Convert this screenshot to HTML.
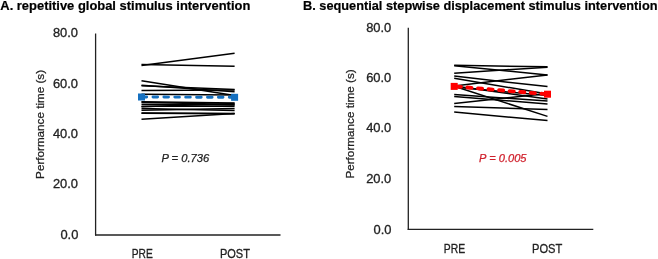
<!DOCTYPE html>
<html><head><meta charset="utf-8"><style>
html,body{margin:0;padding:0;background:#fff;width:658px;height:259px;overflow:hidden}
svg{display:block;will-change:transform}
</style></head><body>
<svg width="658" height="259" viewBox="0 0 658 259">
<style>
text{font-family:"Liberation Sans",sans-serif;}
.t{font-weight:bold;font-size:12.8px;fill:#000;stroke:#000;stroke-width:0.2px}
.k{font-size:12.9px;fill:#222;stroke:#222;stroke-width:0.3px}
.c{font-size:13px;fill:#222;stroke:#222;stroke-width:0.3px}
.y{font-size:11.8px;fill:#222;stroke:#222;stroke-width:0.25px}
.p{font-size:11px;font-style:italic;stroke-width:0.25px}
</style>
<rect width="658" height="259" fill="#fff"/>
<text class="t" x="0.3" y="10.3" textLength="250" lengthAdjust="spacingAndGlyphs">A. repetitive global stimulus intervention</text>
<text class="t" x="303" y="10.2" textLength="354.5" lengthAdjust="spacingAndGlyphs">B. sequential stepwise displacement stimulus intervention</text>

<!-- left chart -->
<g stroke="#222" stroke-width="1.3" fill="none">
<line x1="95.6" y1="33.5" x2="95.6" y2="235.6"/>
<line x1="95" y1="235" x2="280.5" y2="235"/>
</g>
<g class="k" text-anchor="end">
<text x="78" y="37.3">80.0</text>
<text x="78" y="87.5">60.0</text>
<text x="78" y="137.8">40.0</text>
<text x="78" y="188.2">20.0</text>
<text x="78.3" y="239.3">0.0</text>
</g>
<text class="y" transform="translate(43.6,178.9) rotate(-90)" textLength="109" lengthAdjust="spacingAndGlyphs">Performance time (s)</text>
<text class="c" x="131.8" y="258.2" textLength="21" lengthAdjust="spacingAndGlyphs">PRE</text>
<text class="c" x="219.9" y="258.2" textLength="30" lengthAdjust="spacingAndGlyphs">POST</text>
<g stroke="#000" stroke-width="1.5">
<line x1="141.5" y1="64.4" x2="234.6" y2="66.2"/>
<line x1="141.5" y1="65.6" x2="234.6" y2="53.2"/>
<line x1="141.5" y1="80.7" x2="234.6" y2="95.5"/>
<line x1="141.5" y1="85.3" x2="234.6" y2="91.7"/>
<line x1="141.5" y1="85.8" x2="234.6" y2="89.6"/>
<line x1="141.5" y1="90.4" x2="234.6" y2="89.9"/>
<line x1="141.5" y1="101.8" x2="234.6" y2="103.1"/>
<line x1="141.5" y1="102.3" x2="234.6" y2="104.6"/>
<line x1="141.5" y1="106.3" x2="234.6" y2="106.2"/>
<line x1="141.5" y1="106.8" x2="234.6" y2="103.5"/>
<line x1="141.5" y1="110.3" x2="234.6" y2="108.6"/>
<line x1="141.5" y1="113.0" x2="234.6" y2="113.4"/>
<line x1="141.5" y1="113.3" x2="234.6" y2="113.8"/>
<line x1="141.5" y1="119.2" x2="234.6" y2="113.5"/>
<line x1="141.5" y1="104.2" x2="234.6" y2="105.0"/>
<line x1="141.5" y1="108.4" x2="234.6" y2="110.6"/>
</g>
<line x1="141.5" y1="97.0" x2="234.6" y2="97.3" stroke="#fff" stroke-width="4.6"/>
<line x1="141.5" y1="94.3" x2="234.6" y2="95.0" stroke="#000" stroke-width="1.4"/>
<line x1="141.5" y1="97.0" x2="234.6" y2="97.3" stroke="#1570C0" stroke-width="2.9" stroke-linecap="round" stroke-dasharray="4.6 6.3" stroke-dashoffset="-0.6"/>
<rect x="138.0" y="93.5" width="7" height="7" fill="#1570C0"/>
<rect x="231.1" y="93.8" width="7" height="7" fill="#1570C0"/>
<text class="p" x="161.4" y="161.7" textLength="47.8" lengthAdjust="spacingAndGlyphs" fill="#222" stroke="#222">P = 0.736</text>

<!-- right chart -->
<g stroke="#222" stroke-width="1.3" fill="none">
<line x1="408.3" y1="27.7" x2="408.3" y2="229.9"/>
<line x1="407.7" y1="229.3" x2="593.3" y2="229.3"/>
</g>
<g class="k" text-anchor="end">
<text x="391.3" y="31.5">80.0</text>
<text x="391.3" y="81.9">60.0</text>
<text x="391.3" y="132.3">40.0</text>
<text x="391.3" y="182.8">20.0</text>
<text x="391.5" y="233.8">0.0</text>
</g>
<text class="y" transform="translate(354.3,178.6) rotate(-90)" textLength="109.3" lengthAdjust="spacingAndGlyphs">Performance time (s)</text>
<text class="c" x="443.8" y="253.2" textLength="21.3" lengthAdjust="spacingAndGlyphs">PRE</text>
<text class="c" x="532" y="253.2" textLength="30.3" lengthAdjust="spacingAndGlyphs">POST</text>
<g stroke="#000" stroke-width="1.5">
<line x1="454.2" y1="65.3" x2="547.5" y2="66.8"/>
<line x1="454.2" y1="65.8" x2="547.5" y2="74.9"/>
<line x1="454.2" y1="73.2" x2="547.5" y2="67.2"/>
<line x1="454.2" y1="85.9" x2="547.5" y2="74.9"/>
<line x1="454.2" y1="76.1" x2="547.5" y2="86.6"/>
<line x1="454.2" y1="78.3" x2="547.5" y2="94.0"/>
<line x1="454.2" y1="86.2" x2="547.5" y2="116.4"/>
<line x1="454.2" y1="86.0" x2="547.5" y2="99.0"/>
<line x1="454.2" y1="94.6" x2="547.5" y2="101.1"/>
<line x1="454.2" y1="96.4" x2="547.5" y2="104.1"/>
<line x1="454.2" y1="103.5" x2="547.5" y2="93.6"/>
<line x1="454.2" y1="106.4" x2="547.5" y2="109.6"/>
<line x1="454.2" y1="112.1" x2="547.5" y2="120.6"/>
<line x1="454.2" y1="87.0" x2="547.5" y2="95.6"/>
</g>
<line x1="454.2" y1="86.4" x2="547.5" y2="94.2" stroke="#FF0000" stroke-width="3.8" stroke-linecap="round" stroke-dasharray="4.2 6.4" stroke-dashoffset="-2.6"/>
<rect x="450.7" y="82.9" width="7" height="7" fill="#FF0000"/>
<rect x="544.0" y="90.7" width="7" height="7" fill="#FF0000"/>
<text class="p" x="479.1" y="161.7" textLength="47.4" lengthAdjust="spacingAndGlyphs" fill="#D0202C" stroke="#D0202C">P = 0.005</text>
</svg>
</body></html>
